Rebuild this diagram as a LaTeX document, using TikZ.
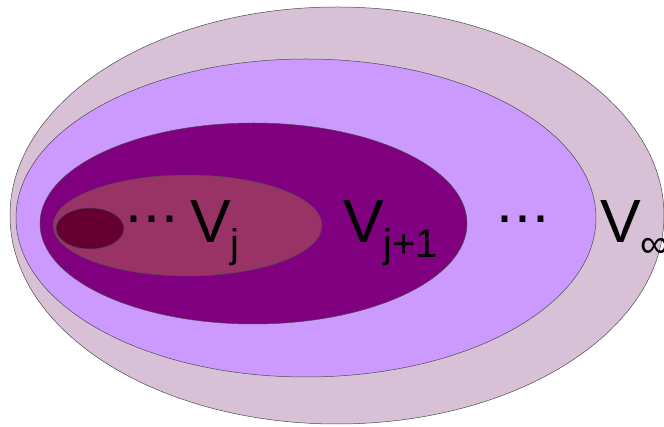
\documentclass[tikz,border=0pt]{standalone}
\usepackage{fontspec}
\setmainfont{Liberation Sans}
\definecolor{outerc}{RGB}{216,193,214}
\definecolor{lavc}{RGB}{204,153,255}
\definecolor{purpc}{RGB}{128,0,128}
\definecolor{mauvc}{RGB}{153,51,102}
\definecolor{darkc}{RGB}{102,0,51}
\newcommand\subtext[1]{\raisebox{-15pt}{\fontsize{40}{40}\selectfont #1}}
\newcommand\middots{\raisebox{20pt}{.\kern1.5pt.\kern1.5pt.}}
\begin{document}
\begin{tikzpicture}[x=1pt,y=-1pt]
\tikzset{
  ring/.style={draw=black!70, line width=0.5pt},
  lbl/.style={anchor=base west, inner sep=0pt, outer sep=0pt, font=\fontsize{61}{61}\selectfont}
}
\useasboundingbox (0,0) rectangle (664,427);
\clip (0,0) rectangle (664,427);
\fill[white] (0,0) rectangle (664,427);
\filldraw[ring, fill=outerc] (337,215.5) ellipse [x radius=327pt, y radius=208.5pt];
\filldraw[ring, fill=lavc] (306,218) ellipse [x radius=290pt, y radius=159pt];
\filldraw[ring, fill=purpc] (253.5,223.5) ellipse [x radius=213.5pt, y radius=100.5pt];
\filldraw[ring, fill=mauvc] (187.5,225.5) ellipse [x radius=134.5pt, y radius=50.5pt];
\filldraw[ring, fill=darkc] (90,228.5) ellipse [x radius=34pt, y radius=20.5pt];
\node[lbl] (d1) at (125,243) {\middots};
\node[lbl] (vj) at (190,243) {V\subtext{j}};
\node[lbl] (vj1) at (343,243) {V\subtext{j+1}};
\node[lbl] (d2) at (496,243) {\middots};
\node[lbl] (vinf) at (600,243) {V\subtext{∞}};
\end{tikzpicture}
\end{document}
